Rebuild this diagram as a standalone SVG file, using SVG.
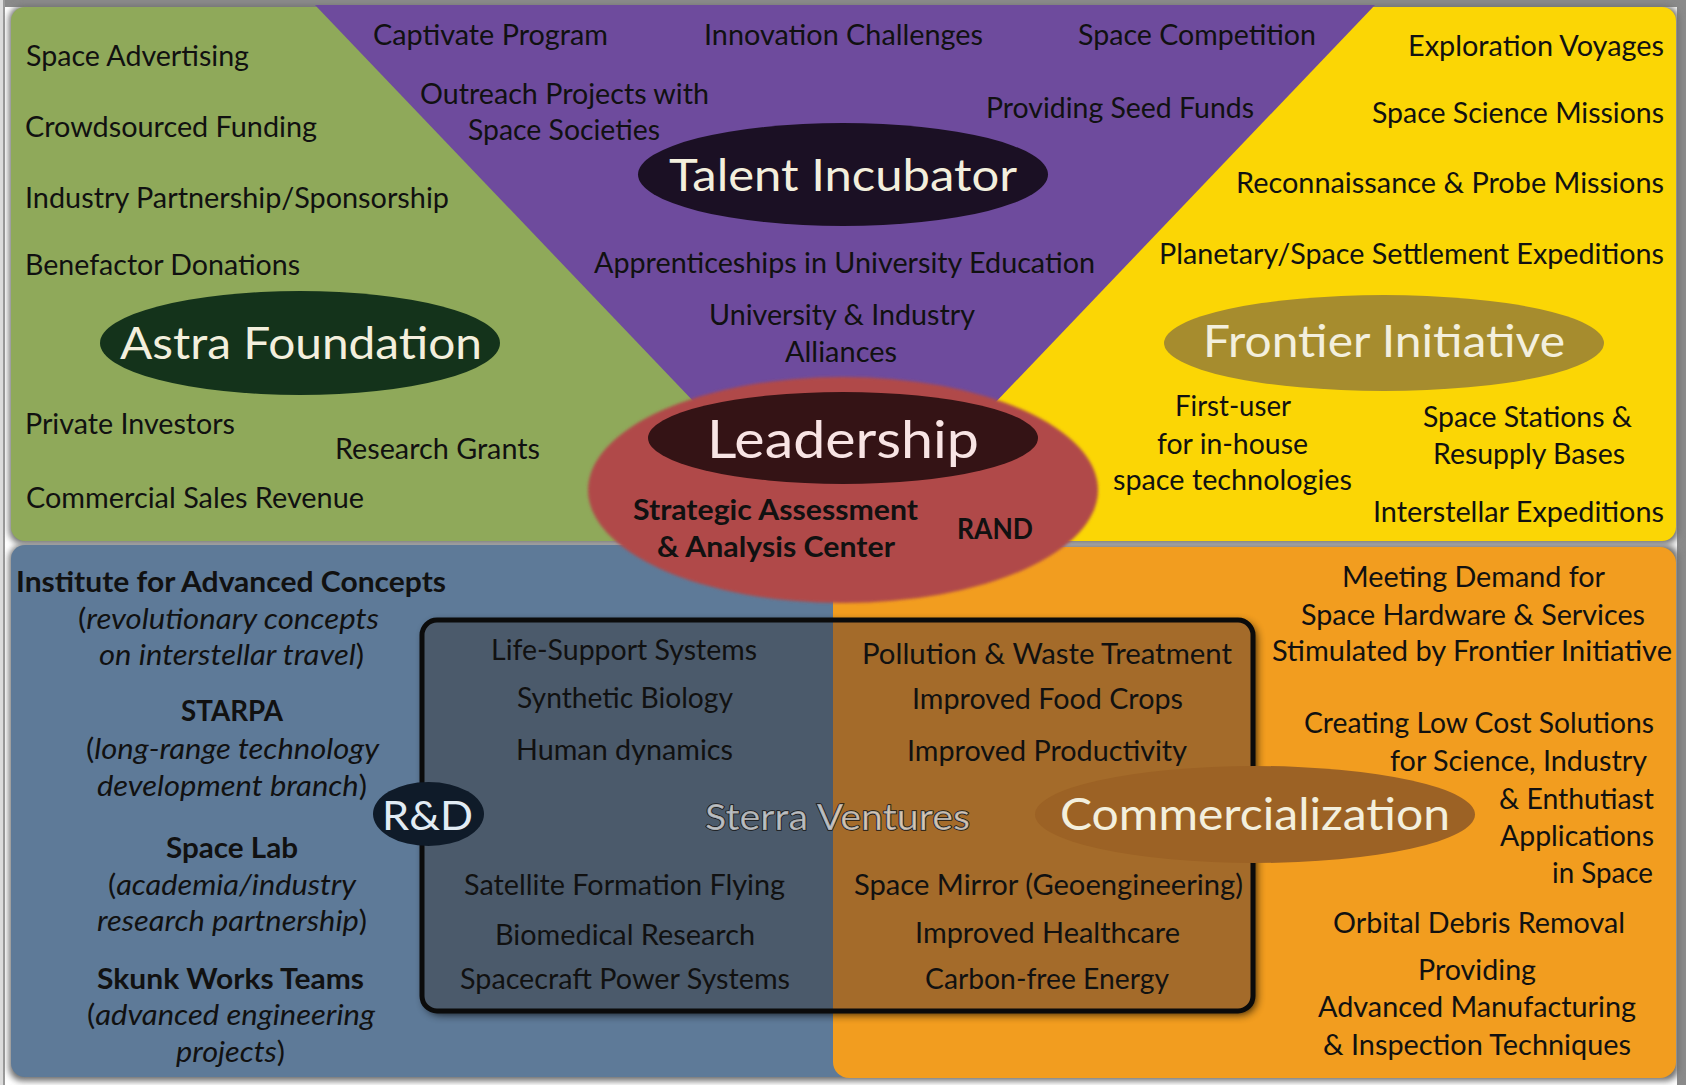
<svg xmlns="http://www.w3.org/2000/svg" width="1686" height="1085" viewBox="0 0 1686 1085">
  <defs>
    <style>
      .t{font-family:Lato,"Liberation Sans",sans-serif;font-size:28px;fill:#111;}
      .b{font-weight:bold;}
      .i{font-style:italic;}
      .ttl{font-family:Lato,"Liberation Sans",sans-serif;font-size:45px;fill:#f3efdd;}
      .panel-shadow{fill:#6f6f6f;filter:url(#soft3);}
    </style>
    <filter id="soft3" x="-5%" y="-5%" width="110%" height="110%">
      <feGaussianBlur stdDeviation="3"/>
    </filter>
    <filter id="soft5" x="-5%" y="-10%" width="110%" height="120%">
      <feGaussianBlur stdDeviation="5"/>
    </filter>
    <filter id="edge" x="-5%" y="-5%" width="110%" height="110%">
      <feGaussianBlur stdDeviation="1.5"/>
    </filter>
    <linearGradient id="boxFill" gradientUnits="userSpaceOnUse" x1="422" y1="0" x2="1253" y2="0">
      <stop offset="0" stop-color="#4b5a6b"/>
      <stop offset="0.4946" stop-color="#4b5a6b"/>
      <stop offset="0.4946" stop-color="#a46b2a"/>
      <stop offset="1" stop-color="#a46b2a"/>
    </linearGradient>
  </defs>

  <!-- page frame -->
  <g id="frame">
    <rect x="0" y="0" width="1686" height="1085" fill="#ffffff"/>
    <rect x="0" y="0" width="1686" height="7" fill="#8a8a8a"/>
    <rect x="1677" y="0" width="9" height="1085" fill="#8a8a8a"/>
    <rect x="0" y="0" width="3" height="1085" fill="#dcdcdc"/>
    <rect x="3" y="0" width="2" height="1085" fill="#9a9a9a"/>
  </g>

  <!-- quadrant panels -->
  <g id="panels">
    <rect class="panel-shadow" x="9" y="6" width="1670" height="538" rx="14"/>
    <rect class="panel-shadow" x="9" y="545" width="1670" height="536" rx="14"/>
    <rect x="11" y="7" width="900" height="534" rx="14" fill="#8fa95a"/>
    <rect x="845" y="7" width="831" height="534" rx="14" fill="#fbd605"/>
    <polygon points="315,5 1375,5 845,560" fill="#6e4b9d"/>
    <rect x="11" y="545" width="840" height="532" rx="14" fill="#5e7a98"/>
    <rect x="833" y="547" width="843" height="531" rx="16" fill="#f29d1f"/>
  </g>

  <!-- funding panel -->
  <g id="funding-items" transform="translate(0,1.5)">
    <text class="t" x="26" y="64" textLength="223" lengthAdjust="spacingAndGlyphs">Space Advertising</text>
    <text class="t" x="25" y="135" textLength="292" lengthAdjust="spacingAndGlyphs">Crowdsourced Funding</text>
    <text class="t" x="25" y="206" textLength="424" lengthAdjust="spacingAndGlyphs">Industry Partnership/Sponsorship</text>
    <text class="t" x="25" y="273" textLength="275" lengthAdjust="spacingAndGlyphs">Benefactor Donations</text>
    <text class="t" x="25" y="432" textLength="210" lengthAdjust="spacingAndGlyphs">Private Investors</text>
    <text class="t" x="335" y="457" textLength="205" lengthAdjust="spacingAndGlyphs">Research Grants</text>
    <text class="t" x="26" y="506" textLength="338" lengthAdjust="spacingAndGlyphs">Commercial Sales Revenue</text>
  </g>

  <!-- talent panel -->
  <g id="talent-items" transform="translate(0,1.5)">
    <text class="t" x="373" y="43" textLength="235" lengthAdjust="spacingAndGlyphs">Captivate Program</text>
    <text class="t" x="704" y="43" textLength="279" lengthAdjust="spacingAndGlyphs">Innovation Challenges</text>
    <text class="t" x="1078" y="43" textLength="238" lengthAdjust="spacingAndGlyphs">Space Competition</text>
    <text class="t" x="420" y="102" textLength="289" lengthAdjust="spacingAndGlyphs">Outreach Projects with</text>
    <text class="t" x="468" y="138" textLength="192" lengthAdjust="spacingAndGlyphs">Space Societies</text>
    <text class="t" x="986" y="116" textLength="268" lengthAdjust="spacingAndGlyphs">Providing Seed Funds</text>
    <text class="t" x="594" y="271" textLength="501" lengthAdjust="spacingAndGlyphs">Apprenticeships in University Education</text>
    <text class="t" x="709" y="323" textLength="266" lengthAdjust="spacingAndGlyphs">University &amp; Industry</text>
    <text class="t" x="785" y="360" textLength="112" lengthAdjust="spacingAndGlyphs">Alliances</text>
  </g>

  <!-- exploration panel -->
  <g id="frontier-items" transform="translate(0,1.5)">
    <text class="t" x="1408" y="54" textLength="256" lengthAdjust="spacingAndGlyphs">Exploration Voyages</text>
    <text class="t" x="1372" y="121" textLength="292" lengthAdjust="spacingAndGlyphs">Space Science Missions</text>
    <text class="t" x="1236" y="191" textLength="428" lengthAdjust="spacingAndGlyphs">Reconnaissance &amp; Probe Missions</text>
    <text class="t" x="1159" y="262" textLength="505" lengthAdjust="spacingAndGlyphs">Planetary/Space Settlement Expeditions</text>
    <text class="t" x="1175" y="414" textLength="116" lengthAdjust="spacingAndGlyphs">First-user</text>
    <text class="t" x="1157" y="452" textLength="151" lengthAdjust="spacingAndGlyphs">for in-house</text>
    <text class="t" x="1113" y="488" textLength="239" lengthAdjust="spacingAndGlyphs">space technologies</text>
    <text class="t" x="1423" y="425" textLength="209" lengthAdjust="spacingAndGlyphs">Space Stations &amp;</text>
    <text class="t" x="1433" y="462" textLength="192" lengthAdjust="spacingAndGlyphs">Resupply Bases</text>
    <text class="t" x="1373" y="520" textLength="291" lengthAdjust="spacingAndGlyphs">Interstellar Expeditions</text>
  </g>

  <!-- research panel -->
  <g id="rd-items" transform="translate(0,1.5)">
    <text class="t b" x="16" y="590" textLength="430" lengthAdjust="spacingAndGlyphs">Institute for Advanced Concepts</text>
    <text class="t" x="78" y="627" textLength="301" lengthAdjust="spacingAndGlyphs">(<tspan class="i">revolutionary concepts</tspan></text>
    <text class="t" x="99" y="663" textLength="265" lengthAdjust="spacingAndGlyphs"><tspan class="i">on interstellar travel</tspan>)</text>
    <text class="t b" x="181" y="719" textLength="102" lengthAdjust="spacingAndGlyphs">STARPA</text>
    <text class="t" x="86" y="757" textLength="293" lengthAdjust="spacingAndGlyphs">(<tspan class="i">long-range technology</tspan></text>
    <text class="t" x="97" y="794" textLength="270" lengthAdjust="spacingAndGlyphs"><tspan class="i">development branch</tspan>)</text>
    <text class="t b" x="166" y="856" textLength="132" lengthAdjust="spacingAndGlyphs">Space Lab</text>
    <text class="t" x="108" y="893" textLength="248" lengthAdjust="spacingAndGlyphs">(<tspan class="i">academia/industry</tspan></text>
    <text class="t" x="97" y="929" textLength="270" lengthAdjust="spacingAndGlyphs"><tspan class="i">research partnership</tspan>)</text>
    <text class="t b" x="97" y="987" textLength="267" lengthAdjust="spacingAndGlyphs">Skunk Works Teams</text>
    <text class="t" x="87" y="1023" textLength="288" lengthAdjust="spacingAndGlyphs">(<tspan class="i">advanced engineering</tspan></text>
    <text class="t" x="176" y="1060" textLength="109" lengthAdjust="spacingAndGlyphs"><tspan class="i">projects</tspan>)</text>
  </g>

  <!-- market panel -->
  <g id="commercial-items" transform="translate(0,1.5)">
    <text class="t" x="1342" y="585" textLength="263" lengthAdjust="spacingAndGlyphs">Meeting Demand for</text>
    <text class="t" x="1301" y="623" textLength="344" lengthAdjust="spacingAndGlyphs">Space Hardware &amp; Services</text>
    <text class="t" x="1272" y="659" textLength="400" lengthAdjust="spacingAndGlyphs">Stimulated by Frontier Initiative</text>
    <text class="t" x="1304" y="731" textLength="350" lengthAdjust="spacingAndGlyphs">Creating Low Cost Solutions</text>
    <text class="t" x="1390" y="769" textLength="257" lengthAdjust="spacingAndGlyphs">for Science, Industry</text>
    <text class="t" x="1499" y="807" textLength="155" lengthAdjust="spacingAndGlyphs">&amp; Enthutiast</text>
    <text class="t" x="1500" y="844" textLength="154" lengthAdjust="spacingAndGlyphs">Applications</text>
    <text class="t" x="1552" y="881" textLength="101" lengthAdjust="spacingAndGlyphs">in Space</text>
    <text class="t" x="1333" y="931" textLength="292" lengthAdjust="spacingAndGlyphs">Orbital Debris Removal</text>
    <text class="t" x="1418" y="978" textLength="118" lengthAdjust="spacingAndGlyphs">Providing</text>
    <text class="t" x="1318" y="1015" textLength="318" lengthAdjust="spacingAndGlyphs">Advanced Manufacturing</text>
    <text class="t" x="1323" y="1053" textLength="308" lengthAdjust="spacingAndGlyphs">&amp; Inspection Techniques</text>
  </g>

  <!-- shared ventures box -->
  <g id="sterra-ventures">
    <rect x="425" y="623" width="831" height="391" rx="15" fill="#000" opacity="0.85" filter="url(#soft5)"/>
    <rect x="422" y="620" width="831" height="391" rx="15" fill="url(#boxFill)" stroke="#0b0b0b" stroke-width="5"/>
    <g transform="translate(0,1.5)">
      <text class="t" x="491" y="658" textLength="266" lengthAdjust="spacingAndGlyphs">Life-Support Systems</text>
      <text class="t" x="517" y="706" textLength="216" lengthAdjust="spacingAndGlyphs">Synthetic Biology</text>
      <text class="t" x="516" y="758" textLength="217" lengthAdjust="spacingAndGlyphs">Human dynamics</text>
      <text class="t" x="464" y="893" textLength="321" lengthAdjust="spacingAndGlyphs">Satellite Formation Flying</text>
      <text class="t" x="495" y="943" textLength="260" lengthAdjust="spacingAndGlyphs">Biomedical Research</text>
      <text class="t" x="460" y="987" textLength="330" lengthAdjust="spacingAndGlyphs">Spacecraft Power Systems</text>
      <text class="t" x="862" y="662" textLength="370" lengthAdjust="spacingAndGlyphs">Pollution &amp; Waste Treatment</text>
      <text class="t" x="912" y="707" textLength="271" lengthAdjust="spacingAndGlyphs">Improved Food Crops</text>
      <text class="t" x="907" y="759" textLength="280" lengthAdjust="spacingAndGlyphs">Improved Productivity</text>
      <text class="t" x="854" y="893" textLength="389" lengthAdjust="spacingAndGlyphs">Space Mirror (Geoengineering)</text>
      <text class="t" x="915" y="941" textLength="265" lengthAdjust="spacingAndGlyphs">Improved Healthcare</text>
      <text class="t" x="925" y="987" textLength="244" lengthAdjust="spacingAndGlyphs">Carbon-free Energy</text>
    </g>
    <text x="705" y="830" textLength="265" lengthAdjust="spacingAndGlyphs" font-family="Lato, 'Liberation Sans', sans-serif" font-size="36" fill="#ffffff" fill-opacity="0.65" stroke="#151515" stroke-width="1.6" paint-order="stroke">Sterra Ventures</text>
  </g>

  <!-- hub nodes -->
  <g id="astra-foundation">
    <ellipse cx="300" cy="343" rx="200" ry="52" fill="#14331b"/>
    <text class="ttl" x="120" y="359" textLength="362" lengthAdjust="spacingAndGlyphs">Astra Foundation</text>
  </g>

  <g id="talent-incubator">
    <ellipse cx="843" cy="174.5" rx="205" ry="51.5" fill="#1b1024"/>
    <text class="ttl" x="669" y="191" textLength="348" lengthAdjust="spacingAndGlyphs">Talent Incubator</text>
  </g>

  <g id="frontier-initiative">
    <ellipse cx="1384" cy="343" rx="220" ry="48" fill="#a68c2e"/>
    <text class="ttl" x="1203" y="357" textLength="362" lengthAdjust="spacingAndGlyphs">Frontier Initiative</text>
  </g>

  <g id="leadership">
    <ellipse cx="843" cy="490" rx="255" ry="113" fill="#b0494a" filter="url(#edge)"/>
    <ellipse cx="843" cy="438" rx="195" ry="46" fill="#341315"/>
    <text class="ttl" x="707" y="458" textLength="272" lengthAdjust="spacingAndGlyphs" style="font-size:53px;fill:#f8e4e4">Leadership</text>
    <g transform="translate(0,2)">
      <text class="t b" x="633" y="518" textLength="285" lengthAdjust="spacingAndGlyphs">Strategic Assessment</text>
      <text class="t b" x="657" y="555" textLength="238" lengthAdjust="spacingAndGlyphs">&amp; Analysis Center</text>
      <text class="t b" x="957" y="537" textLength="76" lengthAdjust="spacingAndGlyphs">RAND</text>
    </g>
  </g>

  <g id="r-and-d">
    <ellipse cx="428.5" cy="814" rx="55.5" ry="32" fill="#0f1b29"/>
    <text class="ttl" x="382" y="830" textLength="91" lengthAdjust="spacingAndGlyphs" style="font-size:41px;fill:#e2ecf4">R&amp;D</text>
  </g>

  <g id="commercialization">
    <ellipse cx="1255" cy="814.5" rx="220" ry="48.5" fill="#9c6225"/>
    <text class="ttl" x="1060" y="830" textLength="390" lengthAdjust="spacingAndGlyphs">Commercialization</text>
  </g>
</svg>
